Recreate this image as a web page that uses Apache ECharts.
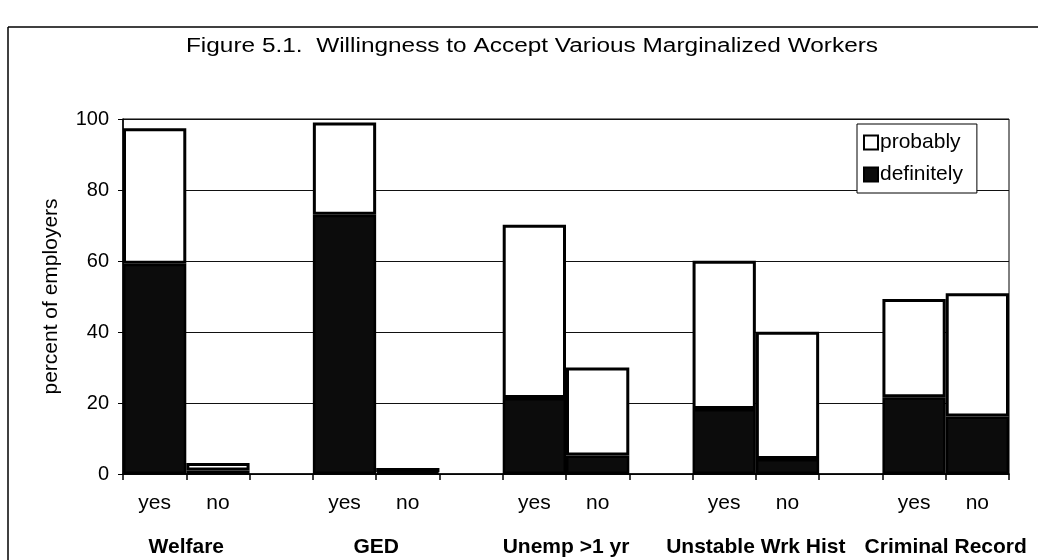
<!DOCTYPE html>
<html>
<head>
<meta charset="utf-8">
<script src="https://cdn.jsdelivr.net/npm/echarts@6/dist/echarts.min.js"></script>
<style>
  html, body { margin: 0; padding: 0; background: #fff; }
  #chart { width: 1038px; height: 560px; }
</style>
</head>
<body>
<div id="chart"></div>
<script>
// slots: yes / no / gap per group, the last group has no gap
const categories = ['yes', 'no', '', 'yes', 'no', '', 'yes', 'no', '', 'yes', 'no', '', 'yes', 'no'];
const definitely = [59.2, 1.0, null, 73.0, 0.5, null, 21.4, 5.2, null, 18.3, 4.2, null, 21.6, 16.2];
const probably = [38.2, 2.1, null, 26.0, 1.2, null, 48.8, 24.8, null, 41.8, 35.9, null, 27.7, 34.7];
const groupNames = ['Welfare', 'GED', 'Unemp >1 yr', 'Unstable Wrk Hist', 'Criminal Record'];
const groupCenters = [1, 4, 7, 10, 13]; // boundary between yes and no slots
const yTicks = [0, 20, 40, 60, 80, 100];

const FONT = '"Liberation Sans", Arial, sans-serif';
const titleText = 'Figure 5.1.  Willingness to Accept Various Marginalized Workers';

const chart = echarts.init(document.getElementById('chart'));

chart.setOption({
  animation: false,
  backgroundColor: '#fff',
  textStyle: { fontFamily: FONT, color: '#000' },
  graphic: [
    { type: 'line', shape: { x1: 8, y1: 27, x2: 1038, y2: 27 }, style: { stroke: '#000', lineWidth: 1.5 } },
    { type: 'line', shape: { x1: 8, y1: 27, x2: 8, y2: 560 }, style: { stroke: '#000', lineWidth: 1.5 } },
    {
      type: 'text',
      x: 532,
      y: 46,
      scaleX: 1.22,
      style: {
        text: titleText,
        font: '20px ' + FONT,
        fill: '#000',
        textAlign: 'center',
        textVerticalAlign: 'middle'
      }
    }
  ],
  legend: {
    left: 857,
    top: 124,
    orient: 'vertical',
    backgroundColor: '#fff',
    borderColor: '#000',
    borderWidth: 1,
    borderRadius: 0,
    padding: [8, 14, 8, 6],
    itemGap: 11,
    itemWidth: 14,
    itemHeight: 14,
    icon: 'rect',
    data: ['probably', 'definitely'],
    textStyle: { fontFamily: FONT, fontSize: 21, color: '#000', padding: [0, 0, 0, -3] }
  },
  grid: {
    left: 123,
    right: 29,
    top: 119,
    bottom: 86,
    show: true,
    borderColor: '#000',
    borderWidth: 1
  },
  xAxis: [
    {
      type: 'category',
      data: categories,
      axisLine: { lineStyle: { color: '#000', width: 1.5 } },
      axisTick: { show: true, length: 6, lineStyle: { color: '#000', width: 1.5 } },
      axisLabel: { color: '#000', fontFamily: FONT, fontSize: 21, margin: 19, interval: 0 }
    },
    {
      type: 'value',
      min: 0,
      max: categories.length,
      interval: 1,
      position: 'bottom',
      axisLine: { show: false },
      axisTick: { show: false },
      splitLine: { show: false },
      axisLabel: {
        color: '#000',
        fontFamily: FONT,
        fontSize: 21,
        fontWeight: 'bold',
        margin: 63,
        showMinLabel: true,
        showMaxLabel: true,
        formatter: function (v) {
          const i = groupCenters.indexOf(v);
          return i >= 0 ? groupNames[i] : '';
        }
      }
    }
  ],
  yAxis: {
    type: 'value',
    min: yTicks[0],
    max: yTicks[yTicks.length - 1],
    interval: 20,
    name: 'percent of employers',
    nameLocation: 'middle',
    nameGap: 61,
    nameTextStyle: { fontFamily: FONT, fontSize: 21, color: '#000' },
    axisLine: { show: true, lineStyle: { color: '#000', width: 1.5 } },
    axisTick: { show: true, length: 5, lineStyle: { color: '#000' } },
    axisLabel: { color: '#000', fontFamily: FONT, fontSize: 20, margin: 14 },
    splitLine: { show: true, lineStyle: { color: '#111', width: 1 } }
  },
  series: [
    {
      name: 'definitely',
      type: 'bar',
      stack: 'total',
      data: definitely,
      barWidth: '100%',
      barCategoryGap: 0,
      itemStyle: { color: '#0c0c0c', borderColor: '#000', borderWidth: 2.5 }
    },
    {
      name: 'probably',
      type: 'bar',
      stack: 'total',
      data: probably,
      barWidth: '100%',
      barCategoryGap: 0,
      itemStyle: { color: '#fff', borderColor: '#000', borderWidth: 3 }
    }
  ]
});
</script>
</body>
</html>
